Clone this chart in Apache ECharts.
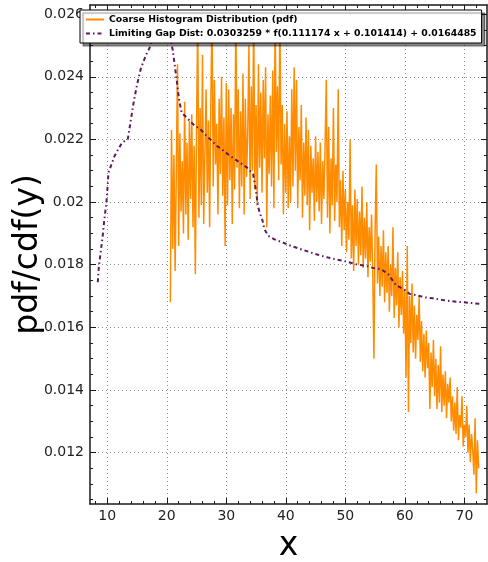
<!DOCTYPE html>
<html><head><meta charset="utf-8">
<script src="https://cdn.jsdelivr.net/npm/echarts@6/dist/echarts.min.js"></script>
<style>html,body{margin:0;padding:0;background:#fff}#c{width:488px;height:562px}</style>
</head><body><div id="c"></div><script>
const xMajorTicks = [10,20,30,40,50,60,70];
const xMinorTicks = [8,12,14,16,18,22,24,26,28,32,34,36,38,42,44,46,48,52,54,56,58,62,64,66,68,72];
const yMajorTicks = [0.012,0.014,0.016,0.018,0.020,0.022,0.024,0.026];
const yMinorTicks = [0.0105,0.011,0.0115,0.0125,0.013,0.0135,0.0145,0.015,0.0155,0.0165,0.017,0.0175,0.0185,0.019,0.0195,0.0205,0.021,0.0215,0.0225,0.023,0.0235,0.0245,0.025,0.0255];

const histLabel = 'Coarse Histogram Distribution (pdf)';
const gapLabel = 'Limiting Gap Dist: 0.0303259 * f(0.111174 x + 0.101414) + 0.0164485';

// histogram bins: first bin centre and bin width
const histX0 = 20.6, histStep = 0.2;
const histPdf = [
 0.0168,0.0223,0.0185,0.0215,0.0178,
 0.0209,0.0244,0.0186,0.0222,0.0197,
 0.0213,0.0190,0.0232,0.0196,0.0219,
 0.0188,0.0226,0.0201,0.0228,0.0192,
 0.0218,0.0177,0.0224,0.0258,0.0195,
 0.0230,0.0199,0.0247,0.0193,0.0215,
 0.0236,0.0203,0.0226,0.0192,0.0232,
 0.0260,0.0205,0.0239,0.0212,0.0225,
 0.0196,0.0233,0.0209,0.0240,0.0202,
 0.0227,0.0186,0.0238,0.0199,0.0236,
 0.0207,0.0230,0.0193,0.0228,0.0204,
 0.0260,0.0211,0.0236,0.0198,0.0229,
 0.0205,0.0241,0.0196,0.0233,0.0208,
 0.0222,0.0250,0.0201,0.0237,0.0210,
 0.0260,0.0204,0.0231,0.0199,0.0244,
 0.0211,0.0235,0.0203,0.0239,0.0214,
 0.0243,0.0192,0.0228,0.0209,0.0234,
 0.0205,0.0242,0.0198,0.0260,0.0216,
 0.0237,0.0207,0.0260,0.0212,0.0231,
 0.0196,0.0225,0.0203,0.0229,0.0198,
 0.0221,0.0200,0.0236,0.0205,0.0243,
 0.0210,0.0239,0.0198,0.0224,0.0207,
 0.0231,0.0195,0.0219,0.0202,0.0227,
 0.0199,0.0223,0.0191,0.0218,0.0203,
 0.0214,0.0194,0.0221,0.0200,0.0216,
 0.0197,0.0219,0.0193,0.0213,0.0201,
 0.0218,0.0239,0.0195,0.0224,0.0190,
 0.0214,0.0199,0.0230,0.0194,0.0212,
 0.0200,0.0236,0.0192,0.0207,0.0186,
 0.0210,0.0191,0.0204,0.0184,0.0200,
 0.0188,0.0220,0.0182,0.0199,0.0178,
 0.0204,0.0186,0.0201,0.0180,0.0197,
 0.0183,0.0205,0.0179,0.0195,0.0182,
 0.0200,0.0176,0.0192,0.0181,0.0196,
 0.0178,0.0150,0.0191,0.0212,0.0174,
 0.0189,0.0170,0.0186,0.0173,0.0191,
 0.0168,0.0184,0.0171,0.0186,0.0165,
 0.0180,0.0170,0.0192,0.0163,0.0179,
 0.0167,0.0184,0.0160,0.0176,0.0164,
 0.0178,0.0158,0.0172,0.0144,0.0186,
 0.0133,0.0170,0.0155,0.0174,0.0152,
 0.0167,0.0150,0.0164,0.0156,0.0170,
 0.0149,0.0162,0.0146,0.0158,0.0144,
 0.0159,0.0147,0.0155,0.0134,0.0152,
 0.0141,0.0156,0.0138,0.0150,0.0134,
 0.0148,0.0136,0.0154,0.0133,0.0145,
 0.0135,0.0146,0.0131,0.0142,0.0136,
 0.0144,0.0130,0.0138,0.0127,0.0136,
 0.0126,0.0141,0.0124,0.0132,0.0128,
 0.0138,0.0122,0.0129,0.0125,0.0135,
 0.0120,0.0129,0.0117,0.0126,0.0121,
 0.0113,0.0131,0.0107,0.0124,0.0115
];

const gapX = [8.41,8.58,8.96,9.24,9.52,9.86,10.1,10.2,11.2,12.45,13.45,14.5,15.0,15.65,16.5,17.2,18.0,19.0,20.0,21.0,21.2,21.65,22.05,22.5,24.45,25.6,26.4,28.4,30.6,32.3,33.5,34.5,34.95,35.3,35.6,36.1,36.4,37.0,38.1,39.5,40.6,42.0,44.2,45.7,47.1,48.2,49.6,52.1,53.4,54.6,56.0,57.2,58.5,59.7,60.8,62.2,63.3,64.7,65.8,67.2,68.6,69.9,71.2,72.6];
const gapY = [0.01744,0.01792,0.0185,0.01893,0.01946,0.01999,0.02063,0.02094,0.02146,0.02189,0.02201,0.02326,0.02374,0.02427,0.02469,0.02496,0.0255,0.0259,0.0258,0.02485,0.02456,0.02392,0.02328,0.02286,0.02248,0.02233,0.02217,0.0218,0.02148,0.02126,0.0211,0.02089,0.02041,0.01988,0.01967,0.0194,0.01914,0.01893,0.01881,0.01871,0.01862,0.01853,0.01839,0.0183,0.01823,0.01818,0.01813,0.018,0.01797,0.0179,0.01786,0.0177,0.01735,0.01723,0.01707,0.01702,0.01696,0.01693,0.01689,0.01685,0.01682,0.0168,0.01678,0.01675];

const X_MIN = 7.1, X_MAX = 73.8, Y_MIN = 0.010364, Y_MAX = 0.02629;

const histData = histPdf.map((v, i) => [histX0 + i * histStep, v]);
const gapData = gapX.map((x, i) => [x, gapY[i]]);

const FONT = 'DejaVu Sans';
const frame = {color: '#1a1a1a', width: 1.5};
function xAx(pos, ticks, len, showLine, extra) {
  return Object.assign({
    type: 'value', min: X_MIN, max: X_MAX, position: pos,
    axisLine: {show: showLine, onZero: false, lineStyle: frame},
    axisTick: {show: true, inside: true, length: len, customValues: ticks, lineStyle: {color: '#1a1a1a', width: 1}},
    axisLabel: {show: false},
    splitLine: {show: false}
  }, extra || {});
}
function yAx(pos, ticks, len, showLine, extra) {
  return Object.assign({
    type: 'value', min: Y_MIN, max: Y_MAX, position: pos,
    axisLine: {show: showLine, onZero: false, lineStyle: frame},
    axisTick: {show: true, inside: true, length: len, customValues: ticks, lineStyle: {color: '#1a1a1a', width: 1}},
    axisLabel: {show: false},
    splitLine: {show: false}
  }, extra || {});
}
const grid = {lineStyle: {color: '#8c8c8c', type: [1, 3], width: 1}};

const option = {
  animation: false,
  backgroundColor: '#fff',
  grid: {left: 90, top: 5, right: 1, bottom: 58, containLabel: false, outerBoundsMode: 'none'},
  legend: {
    orient: 'vertical', left: 80, top: 10, itemGap: 5, itemWidth: 18, itemHeight: 9,
    padding: [5, 5, 5, 5], backgroundColor: '#fff', borderColor: '#000', borderWidth: 1,
    shadowColor: 'rgba(0,0,0,0.45)', shadowOffsetX: 3, shadowOffsetY: 3, shadowBlur: 1,
    itemStyle: {opacity: 0},
    textStyle: {fontFamily: FONT, fontWeight: 'bold', fontSize: 9.3, color: '#000'},
    data: [histLabel, gapLabel]
  },
  xAxis: [
    xAx('bottom', xMajorTicks, 6, true, {
      axisLabel: {show: true, customValues: xMajorTicks, color: '#222', fontSize: 14, fontFamily: FONT, margin: 5},
      splitLine: Object.assign({show: true}, grid),
      name: 'x', nameLocation: 'middle', nameGap: 26, nameMoveOverlap: false,
      nameTextStyle: {fontSize: 33, fontFamily: FONT, color: '#000'}
    }),
    xAx('bottom', xMinorTicks, 3, false),
    xAx('top', xMajorTicks, 6, true),
    xAx('top', xMinorTicks, 3, false)
  ],
  yAxis: [
    yAx('left', yMajorTicks, 6, true, {
      axisLabel: {show: true, customValues: yMajorTicks, color: '#222', fontSize: 14, fontFamily: FONT, margin: 6},
      splitLine: Object.assign({show: true}, grid),
      name: 'pdf/cdf(y)', nameLocation: 'middle', nameGap: 45, nameRotate: 90, nameMoveOverlap: false,
      nameTextStyle: {fontSize: 33, fontFamily: FONT, color: '#000'}
    }),
    yAx('left', yMinorTicks, 3, false),
    yAx('right', yMajorTicks, 6, true),
    yAx('right', yMinorTicks, 3, false)
  ],
  series: [
    {
      name: histLabel, type: 'line', data: histData, xAxisIndex: 0, yAxisIndex: 0,
      showSymbol: false, symbol: 'none', clip: true,
      lineStyle: {color: '#ff8c00', width: 1.5},
      itemStyle: {color: '#ff8c00'}, z: 2
    },
    {
      name: gapLabel, type: 'line', data: gapData, xAxisIndex: 0, yAxisIndex: 0,
      showSymbol: false, symbol: 'none', clip: true,
      lineStyle: {color: '#5c1a60', width: 2, type: [4, 3, 1.5, 3]},
      itemStyle: {color: '#5c1a60'}, z: 3
    }
  ]
};
const chart = echarts.init(document.getElementById('c'), null, {renderer: 'canvas'});
chart.setOption(option);
</script></body></html>
